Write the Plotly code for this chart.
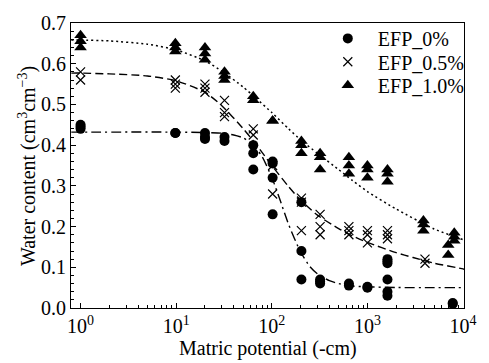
import plotly.graph_objects as go

# ---- measured data (matric potential in -cm, water content cm3/cm3) ----
efp0_h = [1, 1, 1, 9.8, 9.8, 20, 20, 20, 32, 32, 64, 64, 64, 102, 102, 102, 102,
          204, 204, 204, 320, 320, 320, 640, 640, 1000, 1000,
          1620, 1620, 1620, 1620, 1620, 1620, 7800, 7800]
efp0_theta = [0.45, 0.445, 0.44, 0.43, 0.43, 0.43, 0.42, 0.415, 0.42, 0.41,
              0.40, 0.38, 0.34, 0.36, 0.355, 0.32, 0.23,
              0.26, 0.14, 0.07, 0.07, 0.065, 0.06, 0.06, 0.055, 0.052, 0.05,
              0.12, 0.115, 0.11, 0.07, 0.04, 0.03, 0.01, 0.012]

efp05_h = [1, 1, 9.8, 9.8, 9.8, 20, 20, 20, 32, 32, 32, 64, 64, 102, 102,
           204, 204, 204, 320, 320, 320, 640, 640, 640, 1000, 1000, 1000,
           1620, 1620, 1620, 4000, 4000]
efp05_theta = [0.58, 0.56, 0.56, 0.55, 0.54, 0.55, 0.54, 0.53, 0.51, 0.48, 0.47,
               0.44, 0.425, 0.35, 0.28, 0.27, 0.26, 0.19, 0.23, 0.20, 0.18,
               0.20, 0.19, 0.18, 0.19, 0.18, 0.16, 0.19, 0.18, 0.17, 0.12, 0.11]

efp10_h = [1, 1, 1, 9.8, 9.8, 9.8, 20, 20, 20, 32, 32, 32, 64, 64, 102, 102,
           204, 204, 204, 320, 320, 320, 640, 640, 640, 1000, 1000, 1000,
           1620, 1620, 1620, 3850, 3850, 3850, 7000, 7000, 8100, 8100, 8100]
efp10_theta = [0.67, 0.655, 0.64, 0.65, 0.64, 0.63, 0.64, 0.625, 0.61,
               0.58, 0.57, 0.56, 0.52, 0.51, 0.46, 0.46, 0.41, 0.40, 0.38,
               0.38, 0.37, 0.34, 0.37, 0.35, 0.33, 0.35, 0.34, 0.32,
               0.34, 0.33, 0.31, 0.215, 0.205, 0.19, 0.155, 0.13, 0.185, 0.175, 0.165]

# ---- fitted curves ----
fit0_h = [0.8, 1, 10, 20, 30, 40, 50, 60, 70, 80, 100, 120, 150, 200, 250, 300,
          400, 500, 700, 1000, 2000, 5000, 10000, 10300]
fit0_theta = [0.432, 0.432, 0.432, 0.431, 0.4295, 0.425, 0.418, 0.406, 0.390, 0.370,
              0.321, 0.270, 0.205, 0.1375, 0.102, 0.084, 0.067, 0.060, 0.054,
              0.052, 0.0503, 0.050, 0.050, 0.050]

fit05_h = [0.8, 1, 2, 5, 10, 20, 30, 50, 70, 100, 150, 200, 300, 500, 700, 1000,
           2000, 3000, 5000, 10000, 10300]
fit05_theta = [0.577, 0.577, 0.575, 0.570, 0.558, 0.530, 0.497, 0.441, 0.399, 0.350,
               0.298, 0.265, 0.228, 0.195, 0.177, 0.161, 0.136, 0.124, 0.110,
               0.096, 0.095]

fit10_h = [0.8, 1, 2, 5, 10, 20, 30, 50, 70, 100, 150, 200, 300, 500, 700, 1000,
           2000, 5000, 10000, 10300]
fit10_theta = [0.658, 0.658, 0.656, 0.648, 0.634, 0.607, 0.582, 0.543, 0.513, 0.480,
               0.440, 0.413, 0.380, 0.340, 0.313, 0.286, 0.243, 0.194, 0.168, 0.167]

series_names = ["EFP_0%", "EFP_0.5%", "EFP_1.0%"]
x_tickvals = [1, 10, 100, 1000, 10000]
x_ticktext = ["10<sup>0</sup>", "10<sup>1</sup>", "10<sup>2</sup>",
              "10<sup>3</sup>", "10<sup>4</sup>"]
x_minorvals = [m * d for d in [1, 10, 100, 1000] for m in range(2, 10)]
x_title = "Matric potential (-cm)"
y_title = "Water content (cm<sup>3</sup>cm<sup>\u22123</sup>)"

FONT = "Liberation Serif"
TICK_SIZE = 20
TEXT_SIZE = 20

fig = go.Figure()

# fitted curves
fig.add_trace(go.Scatter(x=fit0_h, y=fit0_theta, mode="lines", showlegend=False,
                         line=dict(color="black", width=1.4, dash="10px,4px,2px,4px",
                                   shape="spline", smoothing=0.6)))
fig.add_trace(go.Scatter(x=fit05_h, y=fit05_theta, mode="lines", showlegend=False,
                         line=dict(color="black", width=1.4, dash="8px,4px",
                                   shape="spline", smoothing=0.6)))
fig.add_trace(go.Scatter(x=fit10_h, y=fit10_theta, mode="lines", showlegend=False,
                         line=dict(color="black", width=1.5, dash="2px,3px",
                                   shape="spline", smoothing=0.6)))

# measured points, each in its own legend so rows can be spaced like the original
fig.add_trace(go.Scatter(x=efp0_h, y=efp0_theta, mode="markers", name=series_names[0],
                         legend="legend",
                         marker=dict(symbol="circle", size=10, color="black")))
fig.add_trace(go.Scatter(x=efp05_h, y=efp05_theta, mode="markers", name=series_names[1],
                         legend="legend2",
                         marker=dict(symbol="x-thin", size=9, color="black",
                                     line=dict(color="black", width=1.2))))
fig.add_trace(go.Scatter(x=efp10_h, y=efp10_theta, mode="markers", name=series_names[2],
                         legend="legend3",
                         marker=dict(symbol="triangle-up", size=11, color="black")))

leg_common = dict(x=0.628, xanchor="left", yanchor="middle",
                  bgcolor="rgba(0,0,0,0)", borderwidth=0,
                  font=dict(family=FONT, size=TEXT_SIZE), itemwidth=50)

fig.update_layout(
    width=489, height=363,
    margin=dict(l=71, r=15, t=15, b=55),
    paper_bgcolor="white", plot_bgcolor="white",
    font=dict(family=FONT, size=TEXT_SIZE, color="black"),
    legend=dict(y=0.946, **leg_common),
    legend2=dict(y=0.864, **leg_common),
    legend3=dict(y=0.782, **leg_common),
    annotations=[
        dict(text=x_title, xref="paper", yref="paper", x=0.5, y=-0.1433,
             xanchor="center", yanchor="middle", showarrow=False,
             font=dict(family=FONT, size=TEXT_SIZE)),
        dict(text=y_title, xref="paper", yref="paper", x=-0.112, y=0.498,
             xanchor="center", yanchor="middle", showarrow=False, textangle=-90,
             font=dict(family=FONT, size=TEXT_SIZE)),
    ],
)

fig.update_xaxes(
    type="log", range=[-0.1, 4.01],
    tickmode="array", tickvals=x_tickvals, ticktext=x_ticktext,
    ticks="inside", ticklen=5, tickwidth=1, tickcolor="black",
    minor=dict(tickmode="array", tickvals=x_minorvals, ticks="inside",
               ticklen=3, tickwidth=1, tickcolor="black", showgrid=False),
    showline=True, linecolor="black", linewidth=1.2, mirror=True,
    showgrid=False, zeroline=False,
    tickfont=dict(family=FONT, size=TICK_SIZE),
)
fig.update_yaxes(
    range=[0, 0.7], dtick=0.1, tickformat=".1f",
    ticks="inside", ticklen=5, tickwidth=1, tickcolor="black",
    minor=dict(dtick=0.02, ticks="inside", ticklen=3, tickwidth=1,
               tickcolor="black", showgrid=False),
    showline=True, linecolor="black", linewidth=1.2, mirror=True,
    showgrid=False, zeroline=False,
    tickfont=dict(family=FONT, size=TICK_SIZE),
)

# remove the browser's default 8px body margin so the figure sits at the page origin
fig.write_html("out.html", config={"displayModeBar": False},
               post_script="document.body.style.margin='0px';")
